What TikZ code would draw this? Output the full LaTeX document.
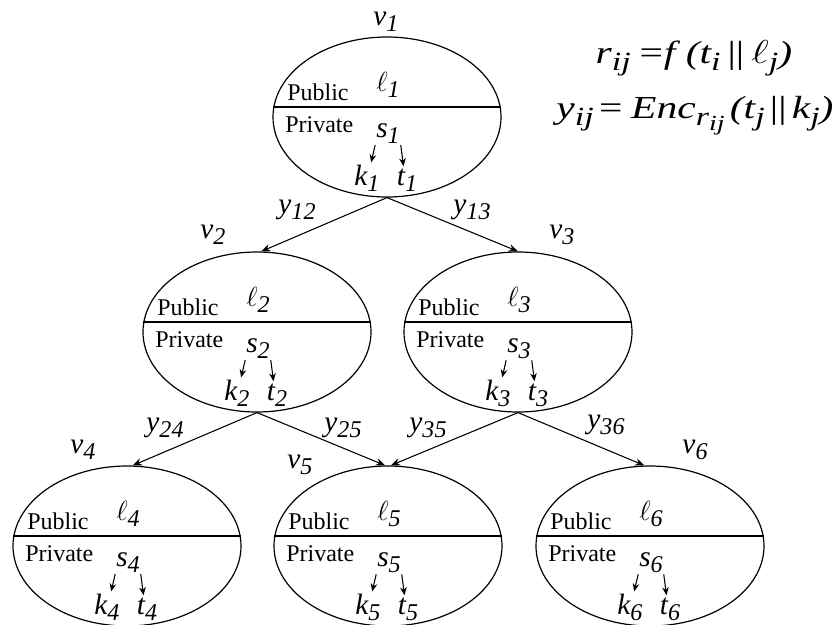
\documentclass[tikz,border=0pt]{standalone}
\usepackage{fontspec}
\setmainfont{Liberation Serif}
\usetikzlibrary{arrows.meta,shapes.geometric}

% italic subscript, lowered and a bit smaller than the letter
\newcommand\sub[1]{\raisebox{-0.22em}{\scalebox{0.82}{#1}}}
\newcommand\ellx{\ensuremath{\ell}}

\tikzset{
  vtx/.style={draw,ellipse,line width=0.9pt,minimum width=171pt,minimum height=120pt,inner sep=0pt},
  zone/.style={font=\fontsize{18}{20}\selectfont,anchor=base west,inner sep=0pt},
  sym/.style={font=\fontsize{22}{24}\selectfont\itshape,anchor=base,inner sep=0.5pt},
  rule/.style={sym,inner sep=0pt,font=\fontsize{24}{28}\selectfont\itshape},
  link/.style={line width=0.8pt,-{Stealth[length=7pt,width=5.5pt]}},
  keyarr/.style={line width=0.8pt,-{Stealth[length=6pt,width=5pt]},shorten <=0.5pt,shorten >=1pt},
}

\begin{document}
\begin{tikzpicture}[x=0.75pt,y=-0.75pt]
  \useasboundingbox (0,0) rectangle (840,625);

  % the six vertices, each split into a public and a private part
  \foreach \i/\x/\y in {1/387/117,2/257/332,3/518/332,4/127/546,5/388/546,6/650/546}{
    \node[vtx] (v\i) at (\x,\y) {};
    \draw[line width=0.9pt] (v\i.175) -- (v\i.5);
    \begin{scope}[shift={(\x,\y)}]
      \node[zone] (pub\i)  at (-100,-17) {Public};
      \node[zone] (priv\i) at (-102,15)  {Private};
      \node[sym]  (l\i) at (1,-26) {\ellx\sub{\i}};
      \node[sym]  (s\i) at (1,20)  {s\sub{\i}};
      \node[sym]  (k\i) at (-20,68) {k\sub{\i}};
      \node[sym]  (t\i) at (20,68)  {t\sub{\i}};
    \end{scope}
    \draw[keyarr] (s\i.south west) -- (k\i.75);
    \draw[keyarr] (s\i.south east) -- (t\i.105);
  }

  % vertex names
  \foreach \i/\x/\y in {1/386/25,2/213/238,3/562/238,4/83/453,5/300/468,6/695/453}
    \node[sym] (vl\i) at (\x,\y) {v\sub{\i}};

  % tree edges
  \draw[link] (v1.south) -- (v2.87);
  \draw[link] (v1.south) -- (v3.north);
  \draw[link] (v2.south) -- (v4.86);
  \draw[link] (v2.south) -- (v5.92);
  \draw[link] (v3.south) -- (v5.88);
  \draw[link] (v3.south) -- (v6.94);

  % edge labels
  \node[sym] (y12) at (297,213) {y\sub{12}};
  \node[sym] (y13) at (472,213) {y\sub{13}};
  \node[sym] (y24) at (165,431) {y\sub{24}};
  \node[sym] (y25) at (343,431) {y\sub{25}};
  \node[sym] (y35) at (428,431) {y\sub{35}};
  \node[sym] (y36) at (606,428) {y\sub{36}};

  % key and ciphertext rule
  \node[rule] (rdef) at (694,63)
    {\scalebox{1.3}[1]{r\sub{ij}\hspace{5pt}{\upshape =}\hspace{0.5pt}f\hspace{6pt}(t\sub{i}\hspace{4pt}{\upshape ||}\hspace{4pt}\ellx\sub{j})}};
  \node[rule] (ydef) at (695,118)
    {\scalebox{1.3}[1]{y\sub{ij}\hspace{3pt}{\upshape =}\hspace{5pt}Enc\sub{r\sub{ij}}\hspace{3pt}(t\sub{j}\hspace{3pt}{\upshape ||}\hspace{3pt}k\sub{j})}};
\end{tikzpicture}
\end{document}
